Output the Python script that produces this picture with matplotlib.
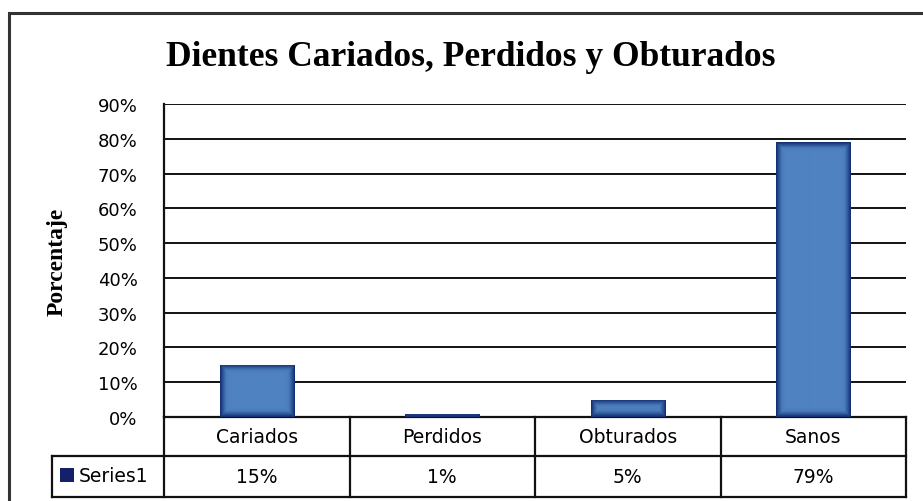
import matplotlib
matplotlib.use('Agg')
import matplotlib.pyplot as plt
import numpy as np
from matplotlib.colors import LinearSegmentedColormap
from matplotlib.transforms import blended_transform_factory
from matplotlib.patches import Rectangle
from matplotlib.lines import Line2D

# ---- data ----
categories = ['Cariados', 'Perdidos', 'Obturados', 'Sanos']
values = [0.15, 0.01, 0.05, 0.79]
value_labels = ['15%', '1%', '5%', '79%']
series_name = 'Series1'
title = 'Dientes Cariados, Perdidos y Obturados'
ylabel = 'Porcentaje'
yticks = [0.0, 0.1, 0.2, 0.3, 0.4, 0.5, 0.6, 0.7, 0.8, 0.9]
ytick_labels = ['0%', '10%', '20%', '30%', '40%', '50%', '60%', '70%', '80%', '90%']

W, H = 923, 502
SERIF = 'Liberation Serif'
SANS = 'DejaVu Sans'

fig = plt.figure(figsize=(W / 100, H / 100), dpi=100)
fig.patch.set_facecolor('white')


def px(x0, y0, x1, y1):
    return [x0 / W, 1 - y1 / H, (x1 - x0) / W, (y1 - y0) / H]


ax = fig.add_axes(px(164, 105, 906, 418))
ax.set_xlim(-0.5, len(categories) - 0.5)
ax.set_ylim(0, 0.9)
for s in ['top', 'right', 'bottom']:
    ax.spines[s].set_visible(False)
ax.spines['left'].set_linewidth(1.6)
ax.spines['left'].set_color('#111111')
ax.set_yticks(yticks)
ax.set_yticklabels(ytick_labels, fontfamily=SANS, fontsize=13)
ax.tick_params(axis='y', length=0, pad=19)
ax.set_xticks([])
ax.grid(axis='y', color='#111111', lw=1.4)
ax.set_axisbelow(True)

# ---- bars with gradient ----
cmap = LinearSegmentedColormap.from_list('bar', ['#10296a', '#2c5596', '#4a7bbb', '#4f82c0'])
x = np.arange(len(categories))
bars = ax.bar(x, values, width=0.4, color='#4a7bbb', zorder=3, linewidth=0)
fig.canvas.draw()
for b in bars:
    x0, y0 = b.get_x(), b.get_y()
    w, h = b.get_width(), b.get_height()
    p0 = ax.transData.transform((x0, y0))
    p1 = ax.transData.transform((x0 + w, y0 + h))
    wp = max(int(round(abs(p1[0] - p0[0]))), 1)
    hp = max(int(round(abs(p1[1] - p0[1]))), 1)
    xx = np.arange(wp) + 0.5
    yy = np.arange(hp) + 0.5
    dx = np.minimum(xx, wp - xx)
    dy = np.minimum(yy, hp - yy)
    d = np.minimum(dx[None, :], dy[:, None])
    v = np.clip(d / 9.0, 0, 1)
    b.set_facecolor('none')
    im = ax.imshow(v, cmap=cmap, vmin=0, vmax=1, extent=(x0, x0 + w, y0, y0 + h),
                   aspect='auto', origin='lower', zorder=3, interpolation='bilinear')
    im.set_clip_path(b)

# ---- data table ----
tr = blended_transform_factory(ax.transData, ax.transAxes)
ph = 418 - 105
r1 = -(457 - 418) / ph
r2 = -(498 - 418) / ph
left_cell = -0.5 - (164 - 52) / ((906 - 164) / len(categories))
lc = '#111111'
lw = 1.6
xl, xr = -0.5, len(categories) - 0.5
for yv, xa in [(0, xl), (r1, left_cell), (r2, left_cell)]:
    ax.add_line(Line2D([xa, xr], [yv, yv], transform=tr, color=lc, lw=lw, clip_on=False))
for i in range(len(categories) + 1):
    xv = -0.5 + i
    ax.add_line(Line2D([xv, xv], [0, r2], transform=tr, color=lc, lw=lw, clip_on=False))
ax.add_line(Line2D([left_cell, left_cell], [r1, r2], transform=tr, color=lc, lw=lw, clip_on=False))

for i, (c, lab) in enumerate(zip(categories, value_labels)):
    ax.text(i, r1 / 2, c, transform=tr, ha='center', va='center',
            fontfamily=SANS, fontsize=13.5, clip_on=False)
    ax.text(i, (r1 + r2) / 2, lab, transform=tr, ha='center', va='center',
            fontfamily=SANS, fontsize=13.5, clip_on=False)

# legend key in table
fig.add_artist(Rectangle((60 / W, 1 - 483 / H), 14 / W, 14 / H, transform=fig.transFigure,
                         facecolor='#14216a', edgecolor='none'))
fig.text(79 / W, 1 - 477 / H, series_name, ha='left', va='center',
         fontfamily=SANS, fontsize=13.5)

# ---- title & ylabel ----
fig.text(471 / W, 1 - 66 / H, title, ha='center', va='baseline',
         fontfamily=SERIF, fontweight='bold', fontsize=25.5)
fig.text(57 / W, 1 - 262 / H, ylabel, rotation=90, ha='center', va='center',
         fontfamily=SERIF, fontweight='bold', fontsize=17)

# ---- outer chart border ----
fig.add_artist(Line2D([8.5 / W, 8.5 / W, 1.05], [-0.05, 1 - 13.5 / H, 1 - 13.5 / H],
                      transform=fig.transFigure, color='#333333', lw=2.2,
                      solid_joinstyle='miter'))

fig.savefig('out.png', dpi=100, facecolor='white')
